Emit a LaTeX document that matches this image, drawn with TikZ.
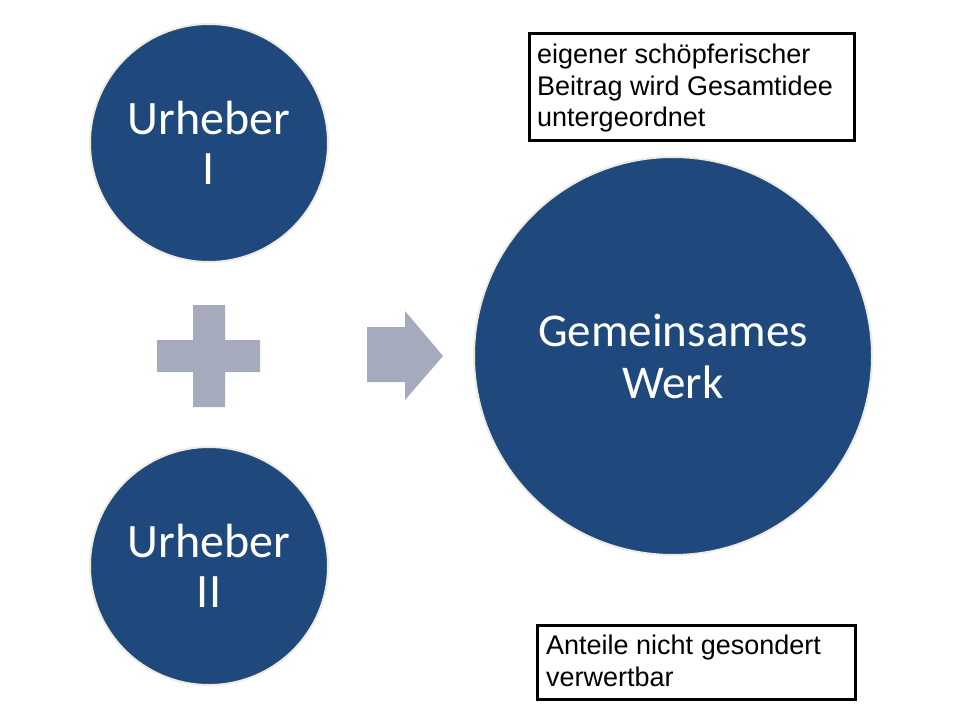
\documentclass[tikz,border=0pt]{standalone}
\usepackage{fontspec}
\setmainfont{Carlito}
\newfontfamily\boxfont{Liberation Sans}
\usepackage{tikz}
\usetikzlibrary{positioning}
\definecolor{werkblue}{HTML}{1F497D}
\definecolor{ringbg}{HTML}{EEECE1}
\definecolor{signgray}{HTML}{A5ABBD}

\begin{document}
\begin{tikzpicture}[
  x=1pt,y=-1pt,
  circ/.style={circle,fill=werkblue,draw=ringbg,line width=2pt,inner sep=0pt,
               text=white,align=center},
  urh/.style={circ,minimum size=238pt,font=\fontsize{48}{50}\selectfont},
  werk/.style={circ,minimum size=398pt,font=\fontsize{47}{52}\selectfont},
  note/.style={draw=black,line width=3pt,fill=white,rectangle,anchor=north west,
               inner sep=0pt},
  notetext/.style={anchor=north west,inner sep=0pt,align=left,
                   font=\boxfont\fontsize{27}{31.5}\selectfont},
  sign/.style={fill=signgray,draw=none},
]
\useasboundingbox[fill=white] (0,0) rectangle (960,720);

% Two authors on the left
\node[urh] (u1) at (209,143) {Urheber\\I};
\node[urh] (u2) at (209,566) {Urheber\\II};

% Joint work on the right
\node[werk] (gw) at (673,356) {Gemeinsames\\Werk};

% Plus sign between the authors
\fill[sign] (193,305) -- (225,305) -- (225,340) -- (260,340) -- (260,372)
  -- (225,372) -- (225,407) -- (193,407) -- (193,372) -- (157,372)
  -- (157,340) -- (193,340) -- cycle;

% Block arrow towards the joint work
\fill[sign] (367,327) -- (405,327) -- (405,311) -- (443,356) -- (405,400)
  -- (405,382) -- (367,382) -- cycle;

% Notes
\node[note,minimum width=325pt,minimum height=107pt] (n1) at (527.5,31.5) {};
\node[notetext] (t1) at (537,44)
  {eigener schöpferischer\\Beitrag wird Gesamtidee\\untergeordnet};
\node[note,minimum width=318pt,minimum height=74pt] (n2) at (535.5,623.5) {};
\node[notetext] (t2) at (546,635) {Anteile nicht gesondert\\verwertbar};
\end{tikzpicture}
\end{document}
